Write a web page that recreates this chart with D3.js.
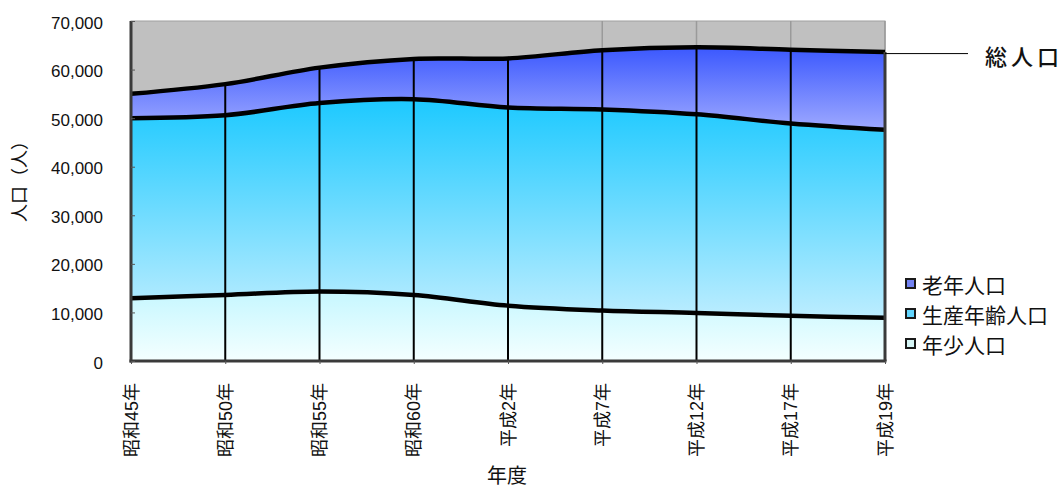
<!DOCTYPE html>
<html>
<head>
<meta charset="utf-8">
<script src="https://cdn.jsdelivr.net/npm/d3@7"></script>
<style>
  body { margin: 0; background: #fff; }
  svg { display: block; }
  text { font-family: "Liberation Sans", "Noto Sans CJK JP", sans-serif; fill: #111; }
</style>
</head>
<body>
<svg id="chart" width="1063" height="486"></svg>
<script>
// Population by age group (persons)
const years   = ["昭和45年", "昭和50年", "昭和55年", "昭和60年", "平成2年", "平成7年", "平成12年", "平成17年", "平成19年"];
const youth   = [12900, 13600, 14300, 13600, 11400, 10400,  9900,  9300,  8900];
const working = [37100, 37000, 38800, 40300, 40800, 41400, 40900, 39600, 38700];
const elderly = [ 5000,  6400,  7300,  8300, 10100, 12200, 13800, 15200, 16000];
const yTicks  = [0, 10000, 20000, 30000, 40000, 50000, 60000, 70000];

const seriesKeys   = ["youth", "working", "elderly"];
const seriesLabels = { youth: "年少人口", working: "生産年齢人口", elderly: "老年人口" };
const legendOrder  = ["elderly", "working", "youth"];
// gridlines shown through the empty band above the total
const upperGridFrom = 5;

const rows = years.map((yr, i) => ({ year: yr, youth: youth[i], working: working[i], elderly: elderly[i] }));
const stacked = d3.stack().keys(seriesKeys)(rows);
const totals = rows.map(r => r.youth + r.working + r.elderly);

const svg = d3.select("#chart");
const plotL = 131, plotR = 885, plotT = 21, plotB = 361;

const x = d3.scalePoint().domain(years).range([plotL, plotR]);
const y = d3.scaleLinear().domain([0, 70000]).range([plotB, plotT]);

// gradients per series (top colour -> bottom colour)
const grads = {
  elderly: ["#3b58fe", "#9ea9ff"],
  working: ["#1cc9ff", "#bcedff"],
  youth:   ["#c6f7ff", "#f4ffff"]
};
const defs = svg.append("defs");
Object.entries(grads).forEach(([k, [c0, c1]]) => {
  const g = defs.append("linearGradient").attr("id", "g-" + k)
    .attr("x1", 0).attr("y1", 0).attr("x2", 0).attr("y2", 1);
  g.append("stop").attr("offset", "0%").attr("stop-color", c0);
  g.append("stop").attr("offset", "100%").attr("stop-color", c1);
});

// plot background
svg.append("rect")
  .attr("x", plotL).attr("y", plotT)
  .attr("width", plotR - plotL).attr("height", plotB - plotT)
  .attr("fill", "#c0c0c0").attr("stroke", "#a0a0a0").attr("stroke-width", 1);

const curve = d3.curveCatmullRom;
const area = d3.area()
  .x(d => x(d.data.year))
  .y0(d => y(d[0]))
  .y1(d => y(d[1]))
  .curve(curve);

svg.append("g").selectAll("path")
  .data(stacked)
  .join("path")
  .attr("d", area)
  .attr("fill", d => `url(#g-${d.key})`);

// upper gridlines in the grey band
svg.append("g").selectAll("line")
  .data(years.map((yr, i) => ({ yr, t: totals[i], i })).filter(d => d.i >= upperGridFrom))
  .join("line")
  .attr("x1", d => x(d.yr)).attr("x2", d => x(d.yr))
  .attr("y1", y(70000)).attr("y2", d => y(d.t))
  .attr("stroke", "#9a9a9a").attr("stroke-width", 1.5);

// vertical category lines through the filled areas
svg.append("g").selectAll("line")
  .data(years.map((yr, i) => ({ yr, t: totals[i] })))
  .join("line")
  .attr("x1", d => x(d.yr)).attr("x2", d => x(d.yr))
  .attr("y1", y(0)).attr("y2", d => y(d.t))
  .attr("stroke", "#000").attr("stroke-width", 2);

// boundary lines
const line = d3.line()
  .x(d => x(d.data.year))
  .y(d => y(d[1]))
  .curve(curve);
svg.append("g").selectAll("path")
  .data(stacked)
  .join("path")
  .attr("d", line)
  .attr("fill", "none")
  .attr("stroke", "#000")
  .attr("stroke-width", 4.5)
  .attr("stroke-linejoin", "round");

// frame: left, bottom and right edge of the filled region
svg.append("line").attr("x1", plotL).attr("x2", plotL).attr("y1", plotT).attr("y2", plotB + 1.5)
  .attr("stroke", "#3a3a3a").attr("stroke-width", 3);
svg.append("line").attr("x1", plotL - 1.5).attr("x2", plotR + 1.5).attr("y1", plotB).attr("y2", plotB)
  .attr("stroke", "#3a3a3a").attr("stroke-width", 3);
svg.append("line").attr("x1", plotR).attr("x2", plotR)
  .attr("y1", y(totals[totals.length - 1])).attr("y2", plotB)
  .attr("stroke", "#3a3a3a").attr("stroke-width", 3);

// y axis
const yAxis = svg.append("g")
  .attr("transform", `translate(${plotL},0)`)
  .call(d3.axisLeft(y).tickValues(yTicks).tickSize(-4).tickPadding(28).tickFormat(d3.format(",")));
yAxis.select(".domain").remove();
yAxis.selectAll(".tick line").attr("stroke", "#555");
yAxis.selectAll(".tick text")
  .attr("font-size", 17)
  .attr("dy", null)
  .attr("y", 1.5)
  .attr("dominant-baseline", "central")
  .attr("fill", "#111");

// x axis
const xAxis = svg.append("g")
  .attr("transform", `translate(0,${plotB})`)
  .call(d3.axisBottom(x).tickSize(3));
xAxis.select(".domain").remove();
xAxis.selectAll(".tick line").attr("stroke", "#555");
xAxis.selectAll(".tick text")
  .attr("font-size", 18)
  .attr("transform", "rotate(-90)")
  .attr("x", -22).attr("y", 0).attr("dy", null)
  .attr("text-anchor", "end")
  .attr("dominant-baseline", "central")
  .attr("fill", "#111");

// axis titles
svg.append("text")
  .attr("transform", "translate(20,177) rotate(-90)")
  .attr("text-anchor", "middle").attr("dominant-baseline", "central")
  .attr("font-size", 18)
  .text("人口（人）");
svg.append("text")
  .attr("x", 507).attr("y", 476)
  .attr("text-anchor", "middle").attr("dominant-baseline", "central")
  .attr("font-size", 20)
  .text("年度");

// total population callout
const lastTotalY = y(totals[totals.length - 1]) + 1.5;
svg.append("line")
  .attr("x1", plotR).attr("x2", 968)
  .attr("y1", lastTotalY).attr("y2", lastTotalY)
  .attr("stroke", "#000").attr("stroke-width", 1);
svg.append("text")
  .attr("x", 985).attr("y", 57)
  .attr("dominant-baseline", "central")
  .attr("font-size", 22).attr("letter-spacing", 4)
  .attr("font-weight", 500)
  .text("総人口");

// legend
const legendColors = { elderly: "#7282f2", working: "#62d6ff", youth: "#d6f6f6" };
const legend = svg.append("g");
legendOrder.forEach((k, i) => {
  const cy = 284 + i * 30;
  legend.append("rect")
    .attr("x", 906).attr("y", cy - 5)
    .attr("width", 9).attr("height", 9)
    .attr("fill", legendColors[k])
    .attr("stroke", "#1a1a1a").attr("stroke-width", 2);
  legend.append("text")
    .attr("x", 922).attr("y", cy + 1)
    .attr("dominant-baseline", "central")
    .attr("font-size", 21)
    .text(seriesLabels[k]);
});
</script>
</body>
</html>
